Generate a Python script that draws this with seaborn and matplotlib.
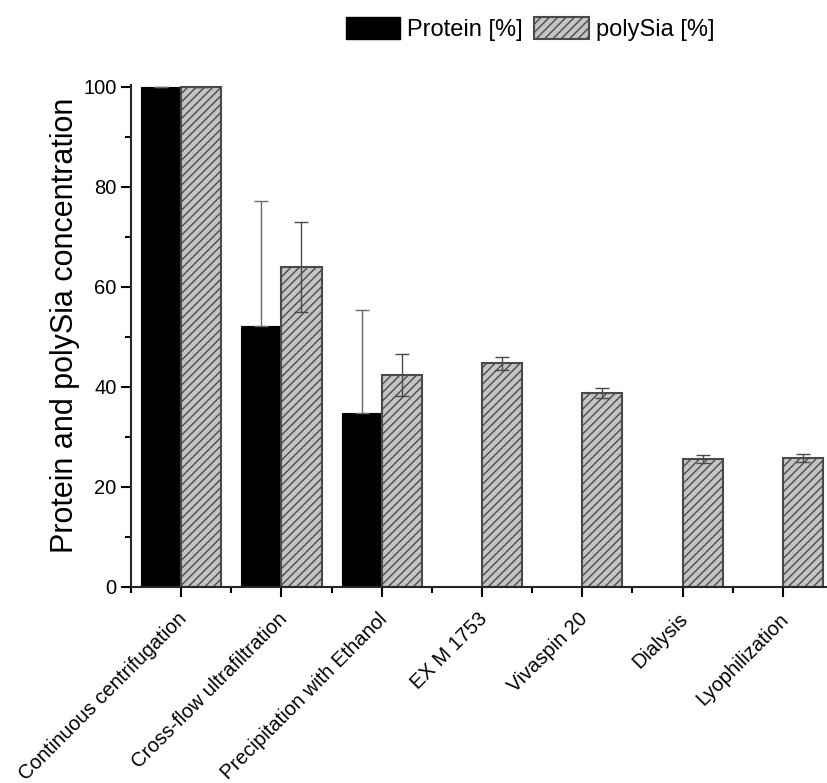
import numpy as np
import pandas as pd
import matplotlib.pyplot as plt
import matplotlib.transforms as mtransforms
import seaborn as sns
from matplotlib.patches import Patch

# --- data ---
steps = [
    "Continuous centrifugation",
    "Cross-flow ultrafiltration",
    "Precipitation with Ethanol",
    "EX M 1753",
    "Vivaspin 20",
    "Dialysis",
    "Lyophilization",
]
protein = [100.0, 52.2, 34.8, np.nan, np.nan, np.nan, np.nan]
protein_err = [0.0, 25.0, 20.6, 0.0, 0.0, 0.0, 0.0]
polysia = [100.0, 64.0, 42.5, 44.8, 38.9, 25.7, 25.8]
polysia_err = [0.0, 9.0, 4.2, 1.3, 1.0, 0.8, 0.8]
series = ["Protein [%]", "polySia [%]"]

df = pd.DataFrame({
    "step": steps * 2,
    "series": [series[0]] * len(steps) + [series[1]] * len(steps),
    "value": protein + polysia,
})

sns.set_style("ticks")
plt.rcParams["font.family"] = ["Liberation Sans", "DejaVu Sans"]
plt.rcParams["hatch.linewidth"] = 1.0
plt.rcParams["text.color"] = "black"
plt.rcParams["axes.labelcolor"] = "black"
plt.rcParams["xtick.color"] = "black"
plt.rcParams["ytick.color"] = "black"

fig = plt.figure(figsize=(8.27, 7.83), dpi=100)
ax = fig.add_axes([131 / 827, 1 - 587 / 783, (827 - 131) / 827, (587 - 84.5) / 783])

sns.barplot(
    data=df, x="step", y="value", hue="series", order=steps, hue_order=series,
    palette=["black", "#c4c4c4"], errorbar=None, width=0.8, saturation=1,
    legend=False, ax=ax,
)

# style the polySia bars (second container) with hatch
for p in ax.containers[1].patches:
    p.set_hatch("////")
    p.set_edgecolor("#4a4a4a")
    p.set_linewidth(1.5)
for p in ax.containers[0].patches:
    p.set_edgecolor("black")
    p.set_linewidth(0.8)

# error bars: protein only upward (lower half hidden in the black bar)
p_ok = [i for i, v in enumerate(protein) if not np.isnan(v)]
px = [p.get_x() + p.get_width() / 2 for p in ax.containers[0].patches]
sx = [p.get_x() + p.get_width() / 2 for p in ax.containers[1].patches]
ax.errorbar(px, [protein[i] for i in p_ok],
            yerr=[np.zeros(len(p_ok)), [protein_err[i] for i in p_ok]], fmt="none",
            ecolor="#6a6a6a", elinewidth=1.0, capsize=5, capthick=1.0, zorder=3)
ax.errorbar(sx, polysia, yerr=polysia_err, fmt="none",
            ecolor="#4a4a4a", elinewidth=1.0, capsize=5, capthick=1.0, zorder=3)

ax.set_xlim(-0.5, 6.44)
ax.set_ylim(0, 100.5)
ax.set_yticks([0, 20, 40, 60, 80, 100])
ax.set_yticks([10, 30, 50, 70, 90], minor=True)
ax.set_xticks(np.arange(-0.5, 6.5, 1.0), minor=True)
ax.tick_params(axis="both", which="major", direction="out", length=7, width=1.5,
               labelsize=14.5)
ax.tick_params(axis="both", which="minor", direction="out", length=4, width=1.5)
ax.set_xticks(range(len(steps)))
ax.set_xticklabels(steps, rotation=45, ha="right", rotation_mode="anchor", fontsize=14.5)
ax.tick_params(axis="x", which="major", pad=9)
# nudge the rotated labels a little to the left
shift = mtransforms.ScaledTranslation(-4 / 100, 0, fig.dpi_scale_trans)
for lbl in ax.get_xticklabels():
    lbl.set_transform(lbl.get_transform() + shift)
ax.set_xlabel("")
ax.set_ylabel("Protein and polySia concentration", fontsize=22)
ax.yaxis.set_label_coords(-0.073, 0.521)

sns.despine(ax=ax)
ax.spines["left"].set_linewidth(1.5)
ax.spines["bottom"].set_linewidth(1.5)

handles = [
    Patch(facecolor="black", edgecolor="black", label=series[0]),
    Patch(facecolor="#c4c4c4", edgecolor="#4a4a4a", hatch="////", linewidth=1.5, label=series[1]),
]
fig.legend(handles=handles, loc="center", bbox_to_anchor=(530 / 827, 1 - 29 / 783),
           ncol=2, frameon=False, fontsize=17, handlelength=2.3, handleheight=1.05,
           handletextpad=0.3, columnspacing=0.5)

fig.savefig("out.png", dpi=100)
